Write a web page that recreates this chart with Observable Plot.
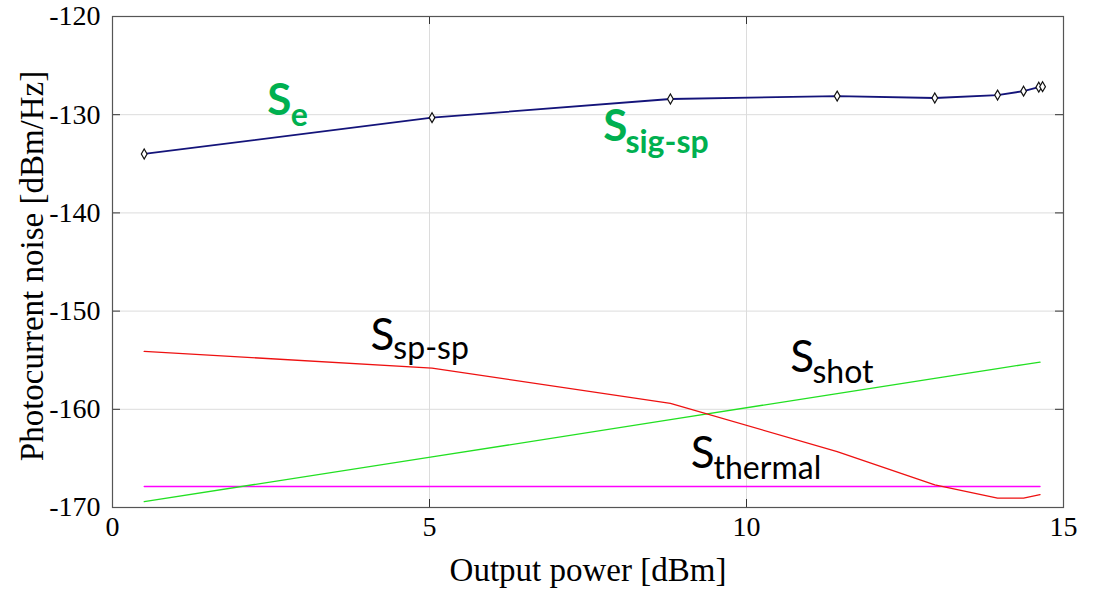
<!DOCTYPE html>
<html>
<head>
<meta charset="utf-8">
<script src="https://cdn.jsdelivr.net/npm/d3@7"></script>
<script src="https://cdn.jsdelivr.net/npm/@observablehq/plot@0.6"></script>
<style>
  html, body { margin: 0; padding: 0; background: white; }
  #chart svg { display: block; }
</style>
</head>
<body>
<div id="chart"></div>
<script>
// Output power [dBm]
const powerSe = [0.5, 5.04, 8.8, 11.43, 12.97, 13.96, 14.37, 14.61, 14.67];
// Total photocurrent noise S_e [dBm/Hz]
const noiseSe = [-134.0, -130.3, -128.4, -128.1, -128.3, -128.0, -127.6, -127.2, -127.15];
// Component noise traces
const powerComp = [0.5, 5.04, 8.8, 11.43, 12.97, 13.96, 14.37, 14.63];
const noiseSpSp = [-154.1, -155.8, -159.4, -164.3, -167.7, -169.05, -169.05, -168.7];
const noiseShot = [-169.4, -164.85, -161.05, -158.4, -156.85, -155.85, -155.45, -155.2];
const noiseThermal = [-167.86, -167.86, -167.86, -167.86, -167.86, -167.86, -167.86, -167.86];

const xTicks = [0, 5, 10, 15];
const yTicks = [-170, -160, -150, -140, -130, -120];

// Curve labels: main letter, subscript, anchor (data units)
const labelMain = ["S", "S", "S", "S", "S"];
const labelSub = ["e", "sig-sp", "sp-sp", "shot", "thermal"];
const labelX = [2.44, 7.74, 4.07, 10.69, 9.12];
const labelY = [-130.08, -132.63, -154.0, -156.25, -165.93];
const labelSubX = [2.81, 8.09, 4.43, 11.04, 9.48];
const labelSubY = [-131.1, -133.95, -154.83, -157.37, -167.05];
const labelGreen = [true, true, false, false, false];

const se = powerSe.map((p, i) => ({x: p, y: noiseSe[i]}));
const comp = (vals) => powerComp.map((p, i) => ({x: p, y: vals[i]}));
const labels = labelMain.map((m, i) => ({
  main: m, sub: labelSub[i], x: labelX[i], y: labelY[i],
  sx: labelSubX[i], sy: labelSubY[i], green: labelGreen[i]
}));
const greenLabels = labels.filter(d => d.green);
const blackLabels = labels.filter(d => !d.green);

const tickLenX = 8 / 63.4;
const tickLenY = 8 / 9.82;

const chart = Plot.plot({
  width: 1097,
  height: 589,
  marginLeft: 112,
  marginRight: 34,
  marginTop: 16,
  marginBottom: 82,
  style: {fontFamily: "Liberation Serif", color: "black", background: "white"},
  x: {domain: [0, 15]},
  y: {domain: [-170, -120]},
  marks: [
    Plot.ruleX(xTicks.slice(1, -1), {stroke: "#dcdcdc", strokeWidth: 1}),
    Plot.ruleY(yTicks.slice(1, -1), {stroke: "#dcdcdc", strokeWidth: 1}),
    Plot.line(comp(noiseThermal), {x: "x", y: "y", stroke: "#ff00ff", strokeWidth: 1.3}),
    Plot.line(comp(noiseShot), {x: "x", y: "y", stroke: "#22e022", strokeWidth: 1.3}),
    Plot.line(comp(noiseSpSp), {x: "x", y: "y", stroke: "#ee1111", strokeWidth: 1.3}),
    Plot.line(se, {x: "x", y: "y", stroke: "#14147a", strokeWidth: 1.8}),
    Plot.dot(se, {x: "x", y: "y", symbol: "diamond", r: 3, stroke: "#111", strokeWidth: 1.2, fill: "white"}),
    // inward ticks on all four sides
    Plot.ruleX(xTicks, {y1: -170, y2: -170 + tickLenY, stroke: "#333"}),
    Plot.ruleX(xTicks, {y1: -120, y2: -120 - tickLenY, stroke: "#333"}),
    Plot.ruleY(yTicks, {x1: 0, x2: tickLenX, stroke: "#333"}),
    Plot.ruleY(yTicks, {x1: 15, x2: 15 - tickLenX, stroke: "#333"}),
    Plot.frame({stroke: "#555", strokeWidth: 1.2}),
    Plot.axisX({ticks: xTicks, tickSize: 0, tickPadding: 9, fontSize: 28, label: null, tickFormat: d => String(d)}),
    Plot.axisY({ticks: yTicks, tickSize: 0, tickPadding: 12, fontSize: 28, label: null, tickFormat: d => String(d)}),
    Plot.text(["Output power [dBm]"], {frameAnchor: "bottom", textAnchor: "middle", lineAnchor: "bottom", dy: 73, fontSize: 33, fill: "black"}),
    Plot.text(["Photocurrent noise [dBm/Hz]"], {frameAnchor: "left", textAnchor: "middle", lineAnchor: "bottom", rotate: -90, dx: -70, dy: 4, fontSize: 33, fill: "black"}),
    // curve labels
    Plot.text(greenLabels, {x: "x", y: "y", text: "main", textAnchor: "start", lineAnchor: "bottom", fontSize: 44, fontWeight: "bold", fontFamily: "Lato", fill: "#00b050"}),
    Plot.text(greenLabels, {x: "sx", y: "sy", text: "sub", textAnchor: "start", lineAnchor: "bottom", fontSize: 32, fontWeight: "bold", fontFamily: "Lato", fill: "#00b050"}),
    Plot.text(blackLabels, {x: "x", y: "y", text: "main", textAnchor: "start", lineAnchor: "bottom", fontSize: 44, fontFamily: "Lato", fill: "black"}),
    Plot.text(blackLabels, {x: "sx", y: "sy", text: "sub", textAnchor: "start", lineAnchor: "bottom", fontSize: 32, fontFamily: "Lato", fill: "black"})
  ]
});
document.getElementById("chart").appendChild(chart);
</script>
</body>
</html>
